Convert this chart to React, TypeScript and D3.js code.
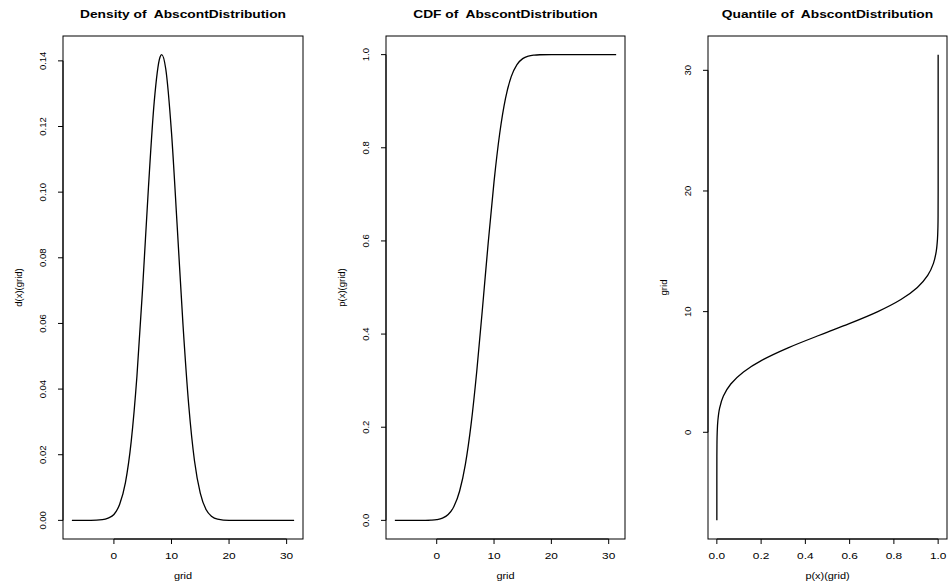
import React from 'react';
import * as d3 from 'd3';

const grid = [-7.3, -4, -2, -1, 0, 1, 2, 3, 4, 5, 6, 7, 8, 8.3, 9, 10, 11, 12, 13, 14, 15, 16, 17, 18, 20, 24, 31.3];
// density values d(x)(grid)
const density = [0, 0, 0.0002, 0.0007, 0.0018, 0.0049, 0.0115, 0.024, 0.044, 0.0712, 0.1015, 0.1275, 0.1411, 0.1419, 0.1376, 0.1182, 0.0894, 0.0596, 0.035, 0.0181, 0.0083, 0.0033, 0.0012, 0.0004, 0, 0, 0];
// cdf values p(x)(grid)
const cdf = [0, 0, 0.0001, 0.0005, 0.0016, 0.0047, 0.0125, 0.0296, 0.063, 0.1202, 0.2065, 0.3218, 0.4575, 0.5, 0.5983, 0.7274, 0.8317, 0.9061, 0.9528, 0.9787, 0.9914, 0.9969, 0.999, 0.9997, 1, 1, 1];

const densTicks = [0, 0.02, 0.04, 0.06, 0.08, 0.1, 0.12, 0.14];
const probTicks = [0, 0.2, 0.4, 0.6, 0.8, 1];
const gridTicks = [0, 10, 20, 30];

const FONT = '"Liberation Sans", Arial, Helvetica, sans-serif';
const TOP = 36;
const BOTTOM = 539;
// the horizontal text in the original is a bit wider than it is tall
const STRETCH = 1.25;

// R-style 4% padding around the data range
const rlim = (vals: number[]) => {
  const [lo, hi] = d3.extent(vals) as [number, number];
  const pad = (hi - lo) * 0.04;
  return [lo - pad, hi + pad];
};

const HText = ({ x, y, size, bold, sx, children }: any) => (
  <text transform={`translate(${x},${y}) scale(${sx || STRETCH},1)`} textAnchor="middle"
    fontSize={size} fontWeight={bold ? 'bold' : 'normal'} style={{ whiteSpace: 'pre' }}>{children}</text>
);

type PanelProps = {
  left: number;
  right: number;
  title: string;
  xs: number[];
  ys: number[];
  xTicks: number[];
  yTicks: number[];
  xFmt: (v: number) => string;
  yFmt: (v: number) => string;
  xLab: string;
  yLab: string;
  vertical?: boolean;
};

const Panel = ({ left, right, title, xs, ys, xTicks, yTicks, xFmt, yFmt, xLab, yLab, vertical }: PanelProps) => {
  const x = d3.scaleLinear().domain(rlim(xs)).range([left, right]);
  const y = d3.scaleLinear().domain(rlim(ys)).range([BOTTOM, TOP]);
  const pts = xs.map((v, i) => [v, ys[i]] as [number, number]);
  const line = d3.line<[number, number]>()
    .x(d => x(d[0]))
    .y(d => y(d[1]))
    .curve(vertical ? d3.curveMonotoneY : d3.curveMonotoneX);
  const cx = (left + right) / 2;
  const cy = (TOP + BOTTOM) / 2;
  const x0 = x(xTicks[0]);
  const x1 = x(xTicks[xTicks.length - 1]);
  const y0 = y(yTicks[0]);
  const y1 = y(yTicks[yTicks.length - 1]);

  return (
    <g fontFamily={FONT} fill="#000">
      <HText x={cx} y={18.3} size={10.6} bold sx={1.3}>{title}</HText>
      <rect x={left} y={TOP} width={right - left} height={BOTTOM - TOP} fill="none" stroke="#000" strokeWidth={1} />
      <path d={line(pts) || ''} fill="none" stroke="#000" strokeWidth={1.3} />

      <line x1={x0} x2={x1} y1={BOTTOM} y2={BOTTOM} stroke="#000" />
      {xTicks.map(t => (
        <g key={'x' + t}>
          <line x1={x(t)} x2={x(t)} y1={BOTTOM} y2={BOTTOM + 5} stroke="#000" />
          <HText x={x(t)} y={559.3} size={9.5}>{xFmt(t)}</HText>
        </g>
      ))}
      <HText x={cx} y={579.4} size={9.5} sx={1.15}>{xLab}</HText>

      <line x1={left} x2={left} y1={y0} y2={y1} stroke="#000" />
      {yTicks.map(t => (
        <g key={'y' + t}>
          <line x1={left} x2={left - 5} y1={y(t)} y2={y(t)} stroke="#000" />
          <text transform={`translate(${left - 17.5},${y(t)}) rotate(-90)`} textAnchor="middle" fontSize={9.5}>{yFmt(t)}</text>
        </g>
      ))}
      <text transform={`translate(${left - 41},${cy}) rotate(-90)`} textAnchor="middle" fontSize={9.5}>{yLab}</text>
    </g>
  );
};

export default function App() {
  return (
    <svg width={948} height={585} style={{ display: 'block', position: 'absolute', left: 0, top: 0, background: '#fff' }}>
      <Panel left={63} right={303} title="Density of  AbscontDistribution" xs={grid} ys={density}
        xTicks={gridTicks} yTicks={densTicks} xFmt={d3.format('d')} yFmt={d3.format('.2f')}
        xLab="grid" yLab="d(x)(grid)" />
      <Panel left={386} right={625} title="CDF of  AbscontDistribution" xs={grid} ys={cdf}
        xTicks={gridTicks} yTicks={probTicks} xFmt={d3.format('d')} yFmt={d3.format('.1f')}
        xLab="grid" yLab="p(x)(grid)" />
      <Panel left={708} right={947} title="Quantile of  AbscontDistribution" xs={cdf} ys={grid}
        xTicks={probTicks} yTicks={gridTicks} xFmt={d3.format('.1f')} yFmt={d3.format('d')}
        xLab="p(x)(grid)" yLab="grid" vertical />
    </svg>
  );
}
